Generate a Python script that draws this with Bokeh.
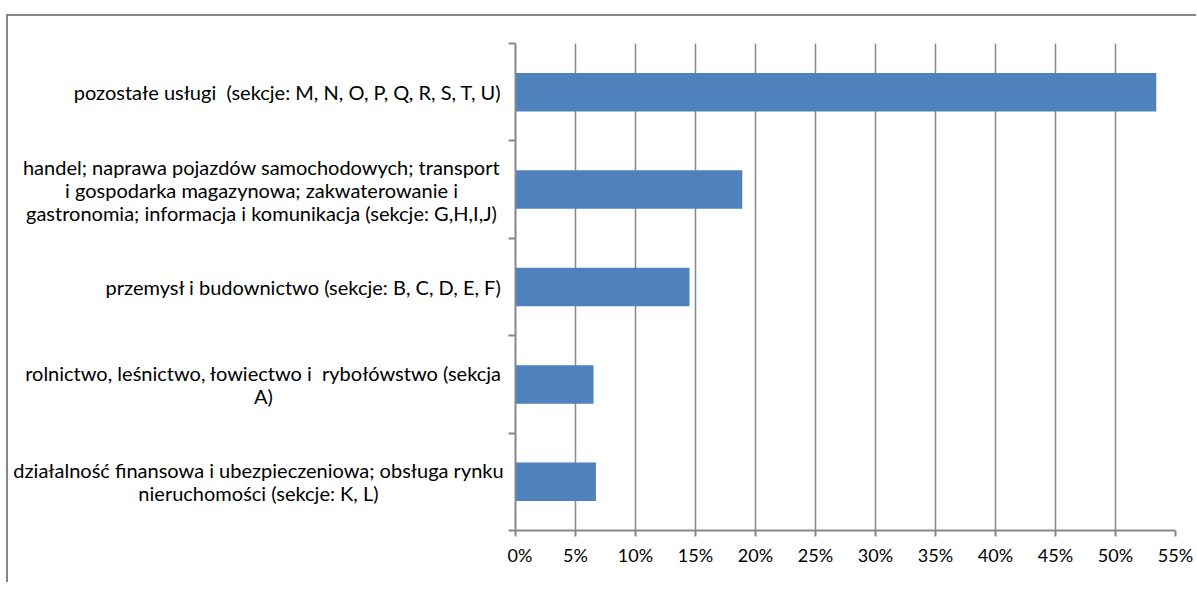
from bokeh.plotting import figure
from bokeh.layouts import row
from bokeh.models import Range1d, FixedTicker, NumeralTickFormatter
from bokeh.core.properties import value
from bokeh.embed import file_html
from bokeh.resources import INLINE

# categories listed top to bottom
categories = [
    "pozostałe usługi\u00a0 (sekcje: M, N, O, P, Q, R, S, T, U)",
    "handel; naprawa pojazdów samochodowych; transport\ni gospodarka magazynowa; zakwaterowanie i\ngastronomia; informacja i komunikacja (sekcje: G,H,I,J)",
    "przemysł i budownictwo (sekcje: B, C, D, E, F)",
    "rolnictwo, leśnictwo, łowiectwo i\u00a0 rybołówstwo (sekcja\nA)",
    "działalność finansowa i ubezpieczeniowa; obsługa rynku\nnieruchomości (sekcje: K, L)",
]
values = [0.534, 0.189, 0.145, 0.065, 0.067]
x_ticks = [0, 0.05, 0.10, 0.15, 0.20, 0.25, 0.30, 0.35, 0.40, 0.45, 0.50, 0.55]

# horizontal centre of each label block (layout only, pixels in label panel)
label_x = [279, 253, 295, 255, 250]

n = len(categories)
ys = [n - i - 0.5 for i in range(n)]

GRAY = "#878787"
FONT = "Lato"
H = 566
TOP, BOTTOM = 27, 52
LEFT_W = 499
TOTAL_W = 1188

# label panel
lp = figure(width=LEFT_W, height=H, output_backend="svg", toolbar_location=None,
            x_range=Range1d(0, LEFT_W), y_range=Range1d(0, n),
            min_border_left=0, min_border_right=0, min_border_top=TOP, min_border_bottom=BOTTOM)
lp.axis.visible = False
lp.grid.visible = False
lp.outline_line_color = None
lp.text(x=label_x, y=ys, text=categories, text_align="center", text_baseline="middle",
        text_font=value(FONT), text_font_size="20px", text_color="#000000",
        text_line_height=0.96)

# chart
p = figure(width=TOTAL_W - LEFT_W, height=H, output_backend="svg", toolbar_location=None,
           x_range=Range1d(0, 0.55), y_range=Range1d(0, n),
           min_border_left=8, min_border_right=21, min_border_top=TOP, min_border_bottom=BOTTOM)
p.outline_line_color = None

p.hbar(y=ys, right=values, left=0, height=0.395, color="#4F81BD", line_color=None)

p.xaxis.ticker = FixedTicker(ticks=x_ticks)
p.xaxis.formatter = NumeralTickFormatter(format="0%")
p.xaxis.axis_line_color = GRAY
p.xaxis.axis_line_width = 2
p.xaxis.major_tick_line_color = GRAY
p.xaxis.major_tick_line_width = 2
p.xaxis.major_tick_out = 6
p.xaxis.major_tick_in = 0
p.xaxis.minor_tick_line_color = None
p.xaxis.major_label_text_font = FONT
p.xaxis.major_label_text_font_size = "18px"
p.xaxis.major_label_text_color = "#000000"
p.xaxis.major_label_standoff = 7

p.yaxis.ticker = FixedTicker(ticks=list(range(n + 1)))
p.yaxis.major_label_overrides = {i: "" for i in range(n + 1)}
p.yaxis.major_label_standoff = 0
p.yaxis.axis_line_color = GRAY
p.yaxis.axis_line_width = 2
p.yaxis.major_tick_line_color = GRAY
p.yaxis.major_tick_line_width = 2
p.yaxis.major_tick_out = 7
p.yaxis.major_tick_in = 0
p.yaxis.minor_tick_line_color = None

p.xgrid.ticker = FixedTicker(ticks=x_ticks[1:])
p.xgrid.grid_line_color = GRAY
p.xgrid.grid_line_width = 1.5
p.ygrid.grid_line_color = None

layout = row(lp, p)
layout.styles = {"margin-left": "6px", "margin-top": "14px",
                 "border-top": f"2px solid {GRAY}", "border-left": f"2px solid {GRAY}"}

open("out.html", "w").write(file_html(layout, INLINE))
